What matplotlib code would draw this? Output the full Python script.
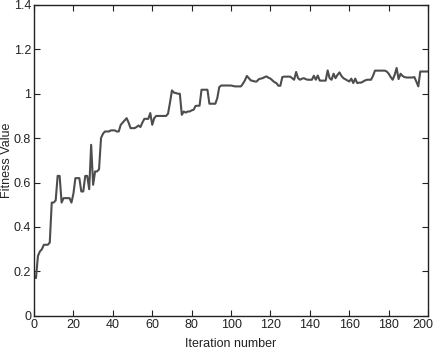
import numpy as np
import matplotlib as mpl
import matplotlib.pyplot as plt
import matplotlib.transforms as mtransforms

mpl.rcParams['font.family'] = ['Liberation Sans', 'DejaVu Sans']
mpl.rcParams['xtick.direction'] = 'in'
mpl.rcParams['ytick.direction'] = 'in'

# fitness value per iteration
fitness = [
    0.18, 0.17, 0.27, 0.29, 0.30, 0.32, 0.32, 0.32, 0.33, 0.51,
    0.51, 0.52, 0.63, 0.63, 0.51, 0.53, 0.53, 0.53, 0.53, 0.51,
    0.55, 0.62, 0.62, 0.62, 0.56, 0.56, 0.63, 0.63, 0.57, 0.77,
    0.59, 0.65, 0.65, 0.66, 0.80, 0.82, 0.83, 0.83, 0.83, 0.835,
    0.835, 0.835, 0.83, 0.83, 0.86, 0.87, 0.88, 0.89, 0.87, 0.845,
    0.845, 0.845, 0.85, 0.857, 0.85, 0.87, 0.887, 0.887, 0.887, 0.913,
    0.86, 0.89, 0.90, 0.90, 0.90, 0.90, 0.90, 0.90, 0.91, 0.96,
    1.015, 1.005, 1.003, 1.0, 1.0, 0.905, 0.92, 0.915, 0.92, 0.92,
    0.925, 0.928, 0.945, 0.946, 0.946, 1.018, 1.018, 1.018, 1.018, 0.955,
    0.955, 0.955, 0.955, 0.98, 1.03, 1.037, 1.037, 1.037, 1.037, 1.037,
    1.037, 1.035, 1.033, 1.033, 1.033, 1.033, 1.045, 1.06, 1.08, 1.07,
    1.06, 1.058, 1.055, 1.055, 1.065, 1.068, 1.07, 1.075, 1.078, 1.072,
    1.068, 1.06, 1.052, 1.048, 1.036, 1.036, 1.075, 1.077, 1.077, 1.077,
    1.077, 1.07, 1.063, 1.098, 1.07, 1.063, 1.068, 1.07, 1.065, 1.063,
    1.063, 1.063, 1.081, 1.063, 1.082, 1.059, 1.059, 1.059, 1.059, 1.105,
    1.07, 1.063, 1.09, 1.07, 1.085, 1.096, 1.08, 1.07, 1.065, 1.06,
    1.055, 1.068, 1.048, 1.068, 1.048, 1.05, 1.05, 1.055, 1.06, 1.063,
    1.063, 1.063, 1.08, 1.104, 1.104, 1.104, 1.104, 1.104, 1.104, 1.1,
    1.09, 1.075, 1.063, 1.085, 1.116, 1.066, 1.09, 1.08, 1.075, 1.073,
    1.073, 1.073, 1.073, 1.075, 1.055, 1.033, 1.1, 1.1, 1.1, 1.1,
    1.1,
]
iterations = np.arange(len(fitness))

fig = plt.figure(figsize=(4.36, 3.49), dpi=100)
ax = fig.add_axes([0.078, 0.095, 0.904, 0.891])

ax.plot(iterations, fitness, color='#4d4d4d', linewidth=1.5)

ax.set_xlim(0, 200)
ax.set_ylim(0, 1.4)
ax.set_xticks(np.arange(0, 201, 20))
ax.set_yticks([0, 0.2, 0.4, 0.6, 0.8, 1, 1.2, 1.4])
ax.set_yticklabels(['0', '0.2', '0.4', '0.6', '0.8', '1', '1.2', '1.4'])
ax.tick_params(top=True, right=True, labelsize=9, length=4, width=0.8,
               colors='#222222', pad=2)
for s in ax.spines.values():
    s.set_linewidth(1.0)
    s.set_color('#222222')

# nudge the last x tick label so it stays inside the figure
last = ax.get_xticklabels()[-1]
last.set_transform(last.get_transform() +
                   mtransforms.ScaledTranslation(-4 / 72, 0, fig.dpi_scale_trans))

ax.set_xlabel('Iteration number', fontsize=9, color='#222222', labelpad=5)
ax.set_ylabel('Fitness Value', fontsize=9, color='#222222', zorder=0)
ax.yaxis.set_label_coords(-0.053, 0.5)

fig.savefig('out.png', dpi=100)
